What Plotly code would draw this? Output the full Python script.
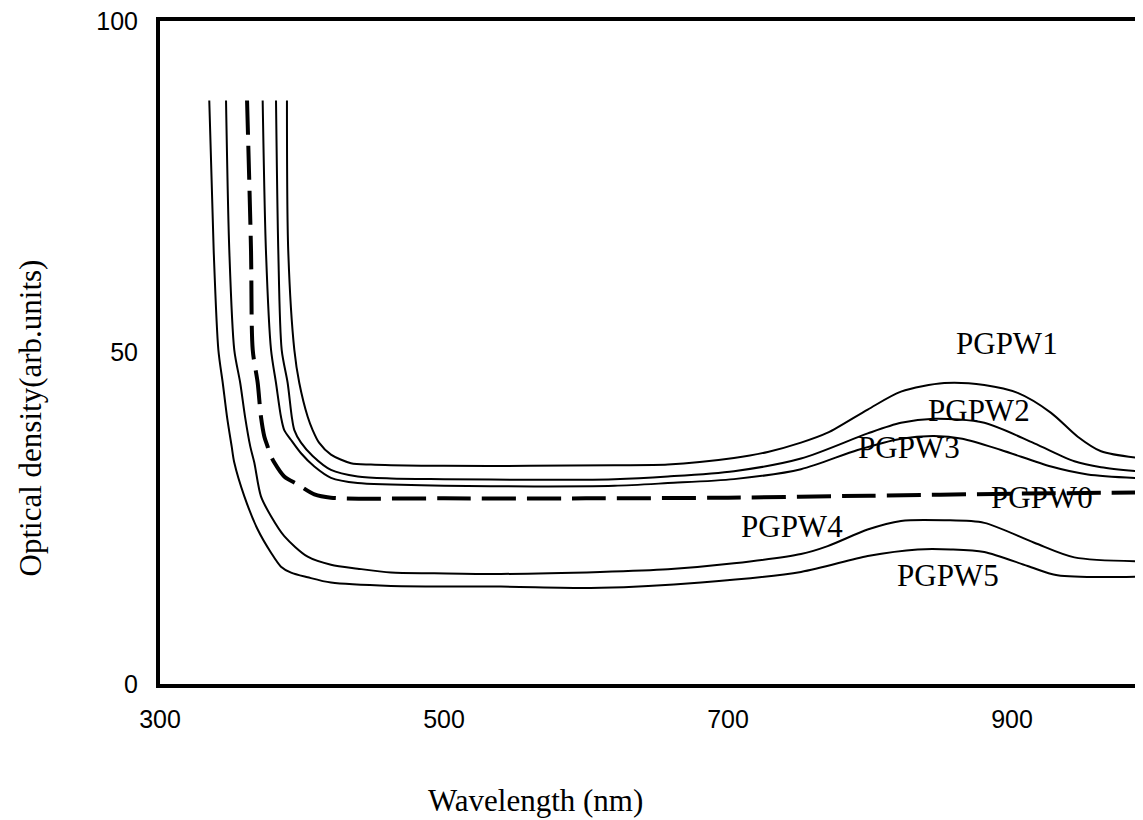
import plotly.graph_objects as go

# Wavelength (nm) / optical density (arb. units)
pgpw1_x = [389.4, 390.3, 394.6, 398.1, 404.0, 407.5, 412.0, 420.4, 434.5, 448.6, 462.7, 500, 560, 620, 657.7, 704.2, 728, 751.4, 770.2, 798.4, 821.8, 852.3, 880.5, 904.0, 927.5, 946.3, 962.7, 993]
pgpw1_y = [88.0, 65.4, 50.4, 45.4, 40.3, 38.3, 36.4, 34.6, 33.3, 33.1, 33.0, 32.9, 32.9, 33.0, 33.1, 34.1, 35.0, 36.4, 37.9, 41.4, 44.1, 45.4, 45.1, 43.9, 40.9, 37.3, 35.1, 34.0]

pgpw2_x = [381.7, 383.3, 385.7, 389.9, 392.8, 394.6, 399.3, 407.5, 420.4, 439.2, 462.7, 500, 563.4, 620, 657.7, 704.2, 751.4, 798.4, 821.8, 845.3, 880.5, 915.7, 943.9, 962.7, 993]
pgpw2_y = [88.0, 65.4, 50.4, 45.4, 40.3, 38.3, 36.4, 34.4, 32.3, 31.3, 31.0, 30.9, 30.8, 30.9, 31.3, 32.1, 34.0, 37.8, 39.4, 40.0, 39.4, 36.3, 33.6, 32.7, 32.0]

pgpw3_x = [372.3, 374.6, 378.2, 381.7, 385.2, 387.5, 392.3, 399.3, 408.7, 420.4, 439.2, 462.7, 500, 563.4, 620, 657.7, 704.2, 751.4, 791.3, 821.8, 845.0, 865.0, 892.3, 927.5, 953.3, 993]
pgpw3_y = [88.0, 65.4, 50.4, 45.4, 40.3, 38.3, 36.8, 34.8, 32.8, 31.1, 30.3, 30.1, 29.9, 29.8, 29.9, 30.3, 30.9, 32.4, 35.3, 37.0, 37.4, 37.0, 35.3, 32.8, 31.6, 31.0]

pgpw0_x = [361.3, 364.1, 365.3, 368.8, 371.1, 373.5, 375.8, 377.0, 380.5, 387.5, 397.0, 408.7, 420.4, 500, 600, 700, 800, 900, 993]
pgpw0_y = [88.0, 65.4, 50.4, 45.4, 40.3, 37.3, 35.8, 34.9, 33.4, 31.3, 30.1, 28.6, 28.1, 28.0, 28.0, 28.1, 28.4, 28.7, 28.9]

pgpw4_x = [346.5, 348.8, 352.3, 356.5, 359.9, 363.6, 366.4, 371.1, 378.2, 387.5, 404.0, 420.4, 439.2, 462.7, 493.0, 540.0, 610.0, 657.7, 704.2, 751.4, 770.2, 798.3, 821.8, 852.3, 880.5, 915.7, 943.9, 993]
pgpw4_y = [88.0, 65.4, 50.4, 45.4, 40.3, 35.8, 33.4, 28.3, 25.3, 22.3, 19.2, 18.0, 17.4, 16.8, 16.7, 16.6, 16.9, 17.3, 18.2, 19.6, 20.8, 23.3, 24.6, 24.7, 24.3, 21.3, 19.1, 18.5]

pgpw5_x = [334.7, 337.8, 341.1, 344.2, 347.2, 350.5, 352.3, 359.4, 368.8, 378.2, 385.2, 392.3, 404.0, 420.4, 462.7, 540.0, 610.6, 681.0, 751.4, 798.4, 833.6, 857.0, 880.5, 911.0, 932.0, 993]
pgpw5_y = [88.0, 65.4, 50.4, 45.4, 40.3, 35.8, 33.4, 28.3, 23.3, 19.8, 17.7, 16.8, 16.1, 15.3, 14.8, 14.7, 14.5, 15.3, 16.9, 19.3, 20.3, 20.3, 19.9, 17.8, 16.4, 16.2]

label_text = ["PGPW1", "PGPW2", "PGPW3", "PGPW0", "PGPW4", "PGPW5"]
label_x = [896.5, 877.0, 827.5, 921.0, 745.0, 854.6]
label_y = [51.4, 41.2, 35.7, 28.1, 23.7, 16.3]

x_ticks = [300, 500, 700, 900]
y_ticks = [0, 50, 100]

fig = go.Figure()
solid = [(pgpw1_x, pgpw1_y), (pgpw2_x, pgpw2_y), (pgpw3_x, pgpw3_y), (pgpw4_x, pgpw4_y), (pgpw5_x, pgpw5_y)]
for xs, ys in solid:
    fig.add_trace(go.Scatter(x=xs, y=ys, mode="lines",
                             line=dict(color="black", width=2, shape="spline", smoothing=0.8),
                             showlegend=False, hoverinfo="skip"))
fig.add_trace(go.Scatter(x=pgpw0_x, y=pgpw0_y, mode="lines",
                         line=dict(color="black", width=4, dash="34px,11px", shape="spline", smoothing=0.8),
                         showlegend=False, hoverinfo="skip"))

serif = "Liberation Serif, Times New Roman, serif"
for t, x, y in zip(label_text, label_x, label_y):
    fig.add_annotation(x=x, y=y, text=t, showarrow=False, xanchor="center", yanchor="middle",
                       font=dict(family=serif, size=31, color="black"))

fig.add_annotation(xref="paper", yref="paper", x=0.3825, y=-0.175, text="Wavelength (nm)",
                   showarrow=False, xanchor="center", yanchor="middle",
                   font=dict(family=serif, size=31, color="black"))
fig.add_annotation(xref="paper", yref="paper", x=-0.132, y=0.401, text="Optical density(arb.units)",
                   showarrow=False, textangle=-90, xanchor="center", yanchor="middle",
                   font=dict(family=serif, size=31, color="black"))

sans = "Liberation Sans, Arial, sans-serif"
fig.update_layout(
    width=1135, height=812,
    margin=dict(l=152, r=0, t=13, b=136),
    paper_bgcolor="white", plot_bgcolor="white",
    xaxis=dict(range=[300, 300 + 983 / 1.42], tickvals=x_ticks, ticks="outside", ticklen=10,
               tickcolor="rgba(0,0,0,0)", showgrid=False, zeroline=False,
               showline=True, linecolor="black", linewidth=4, mirror=True,
               ticklabeloverflow="allow",
               tickfont=dict(family=sans, size=25, color="black")),
    yaxis=dict(range=[0, 100], tickvals=y_ticks, ticks="outside", ticklen=13,
               tickcolor="rgba(0,0,0,0)", showgrid=False, zeroline=False,
               showline=True, linecolor="black", linewidth=4,
               ticklabeloverflow="allow",
               tickfont=dict(family=sans, size=25, color="black")),
)

fig.write_html("out.html")
